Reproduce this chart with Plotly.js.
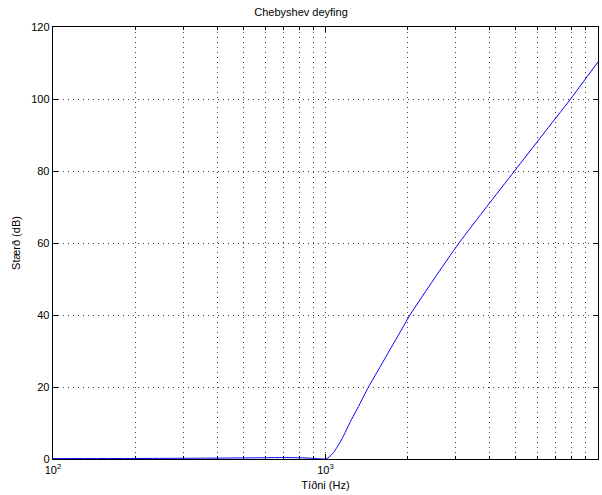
<!DOCTYPE html>
<html>
<head>
<meta charset="utf-8">
<script src="https://cdn.plot.ly/plotly-3.0.1.min.js"></script>
<style>html,body{margin:0;padding:0;background:#fff;}#chart{width:602px;height:495px;}</style>
</head>
<body>
<div id="chart"></div>
<script>
// Frequency (Hz) and magnitude (dB)
const freqHz = [100, 200, 300, 400, 500, 600, 700, 800, 900, 1000, 1020, 1047, 1075, 1118, 1157, 1227, 1330, 1438, 1570, 1713, 1871, 2042, 2502, 3090, 3898, 4939, 6256, 7929, 10000];
const magDb  = [0.1, 0.15, 0.2, 0.25, 0.3, 0.35, 0.4, 0.35, 0.2, 0, 0.3, 1.0, 2.0, 4.0, 6.0, 10, 15, 20, 25, 30, 35, 40, 50, 60, 70, 80, 90, 100, 110.3];

const xMajorVals = [100, 1000, 10000];
const xMajorText = ['10<sup>2</sup>', '10<sup>3</sup>', '10<sup>4</sup>'];
const xMinorVals = [200, 300, 400, 500, 600, 700, 800, 900, 2000, 3000, 4000, 5000, 6000, 7000, 8000, 9000];
const yTickVals = [0, 20, 40, 60, 80, 100, 120];

const titleText = 'Chebyshev deyfing';
const xTitle = 'Tíðni (Hz)';
const yTitle = 'Stærð (dB)';

const font = 'Liberation Sans, Arial, Helvetica, sans-serif';
const gridCol = 'rgba(0,0,0,0.75)';
const gridDash = '1px,4px';

const trace = {
  x: freqHz, y: magDb, type: 'scatter', mode: 'lines',
  line: {color: '#0000ff', width: 1, shape: 'spline', smoothing: 0.6},
  hoverinfo: 'skip'
};

const layout = {
  width: 602, height: 495,
  margin: {l: 53, r: 4, t: 27, b: 36, pad: 0},
  paper_bgcolor: '#fff', plot_bgcolor: '#fff',
  showlegend: false,
  font: {family: font, size: 11, color: '#000'},
  title: {text: titleText, font: {family: font, size: 11, color: '#000'}, x: 0.5, xanchor: 'center', y: 0.975, yanchor: 'middle'},
  xaxis: {
    type: 'log', range: [2, 4],
    tickmode: 'array', tickvals: xMajorVals, ticktext: xMajorText,
    ticks: 'inside', ticklen: 5, tickcolor: '#000', tickwidth: 1,
    showline: true, linecolor: '#000', linewidth: 1.3, mirror: 'ticks',
    showgrid: true, gridcolor: gridCol, griddash: gridDash, gridwidth: 1,
    minor: {tickmode: 'array', tickvals: xMinorVals, ticks: 'inside', ticklen: 3, tickcolor: '#000', showgrid: true, gridcolor: gridCol, griddash: gridDash, gridwidth: 1},
    zeroline: false,
    tickfont: {family: font, size: 11, color: '#000'},
    title: {text: xTitle, font: {family: font, size: 11, color: '#000'}, standoff: 6}
  },
  yaxis: {
    range: [0, 120], tickmode: 'array', tickvals: yTickVals,
    ticks: 'inside', ticklen: 5, tickcolor: '#000', tickwidth: 1,
    showline: true, linecolor: '#000', linewidth: 1.3, mirror: 'ticks',
    showgrid: true, gridcolor: gridCol, griddash: gridDash, gridwidth: 1,
    zeroline: false,
    tickfont: {family: font, size: 11, color: '#000'},
    title: {text: yTitle, font: {family: font, size: 11, color: '#000'}, standoff: 8}
  }
};

Plotly.newPlot('chart', [trace], layout, {staticPlot: true, displayModeBar: false});
</script>
</body>
</html>
